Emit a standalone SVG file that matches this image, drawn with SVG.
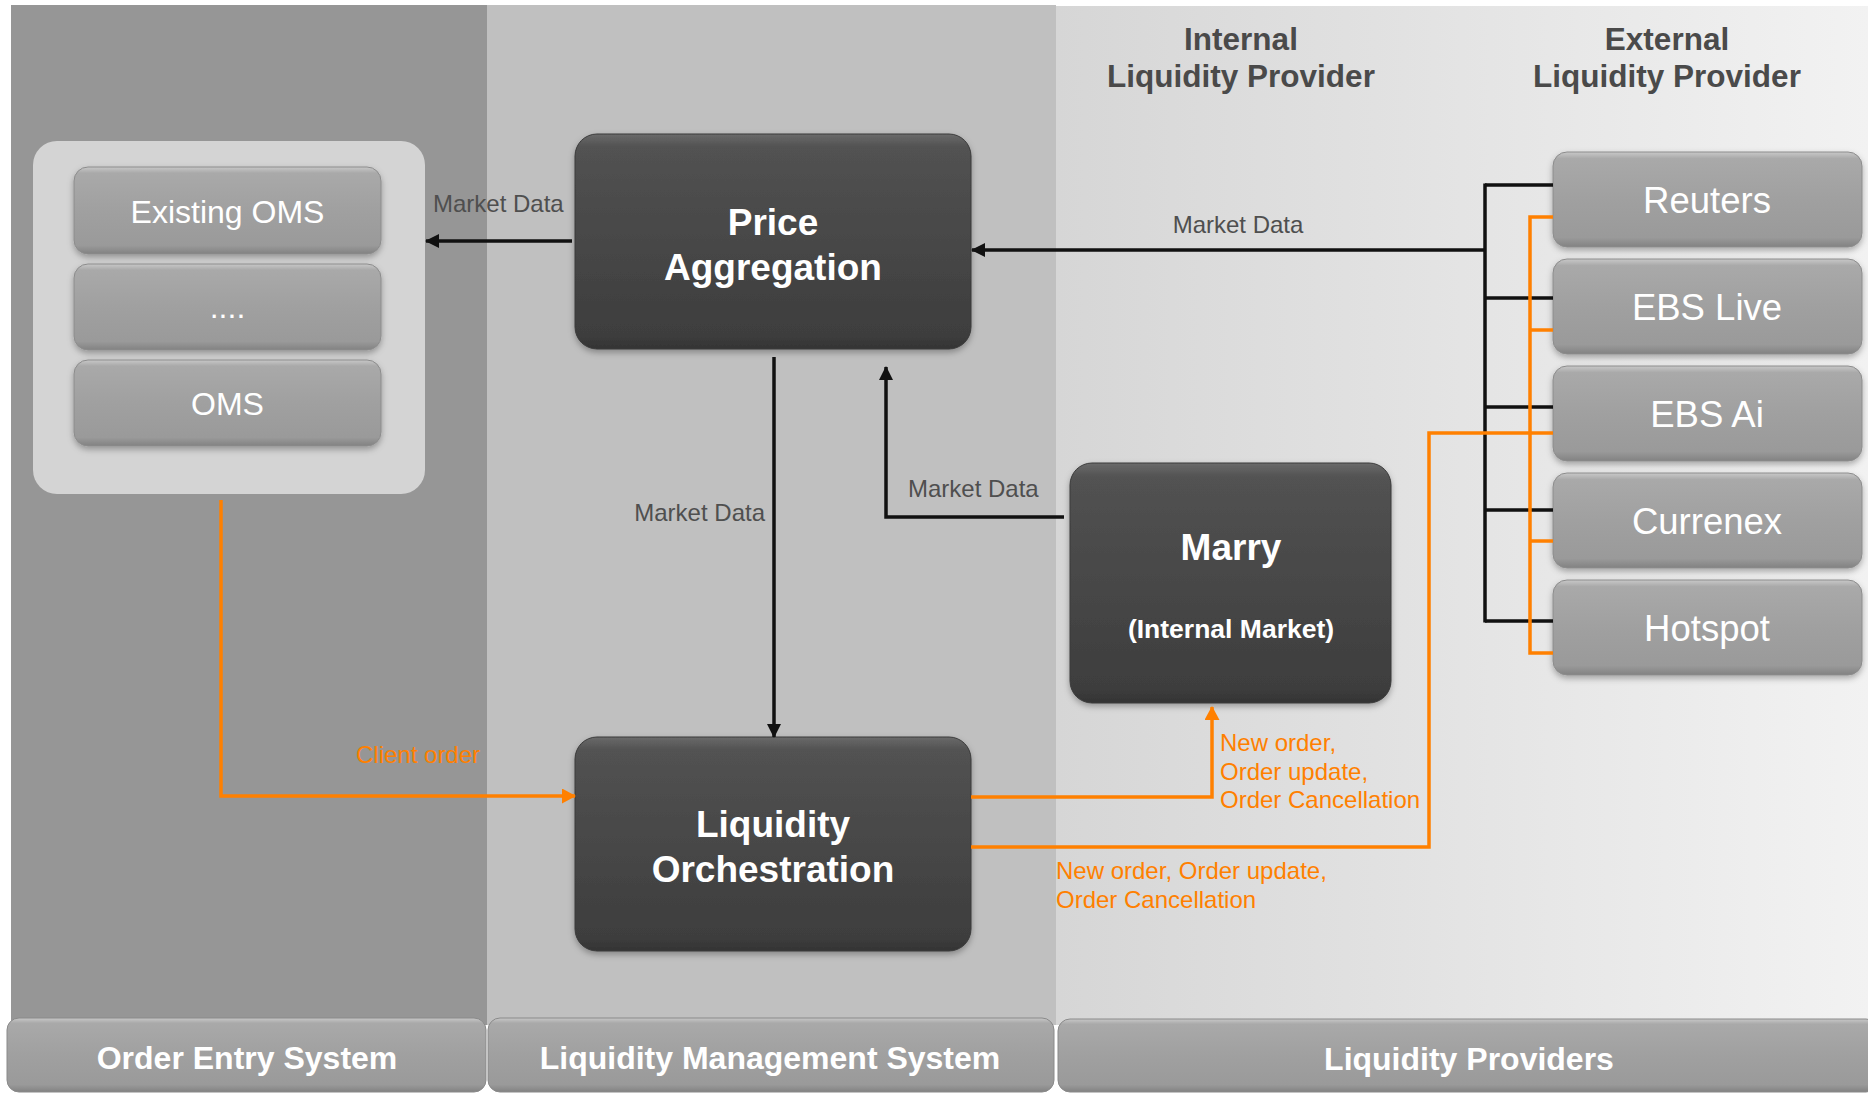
<svg xmlns="http://www.w3.org/2000/svg" width="1868" height="1093" viewBox="0 0 1868 1093">
<defs>
<linearGradient id="gRight" x1="0" y1="0" x2="1" y2="0">
<stop offset="0" stop-color="#d6d6d6"/>
<stop offset="1" stop-color="#f2f2f2"/>
</linearGradient>
<linearGradient id="gLight" x1="0" y1="0" x2="0" y2="1">
<stop offset="0" stop-color="#c8c8c8"/>
<stop offset="0.07" stop-color="#a9a9a9"/>
<stop offset="0.5" stop-color="#a0a0a0"/>
<stop offset="0.9" stop-color="#9a9a9a"/>
<stop offset="1" stop-color="#828282"/>
</linearGradient>
<linearGradient id="gDark" x1="0" y1="0" x2="0" y2="1">
<stop offset="0" stop-color="#6a6a6a"/>
<stop offset="0.06" stop-color="#525252"/>
<stop offset="0.5" stop-color="#474747"/>
<stop offset="0.93" stop-color="#3e3e3e"/>
<stop offset="1" stop-color="#343434"/>
</linearGradient>
<filter id="shadow" x="-10%" y="-10%" width="120%" height="130%">
<feDropShadow dx="0" dy="3" stdDeviation="3" flood-color="#000" flood-opacity="0.3"/>
</filter>
<marker id="arrowBlack" viewBox="0 0 14 14" refX="13" refY="7" markerWidth="14" markerHeight="14" markerUnits="userSpaceOnUse" orient="auto">
<path d="M0,0 L14,7 L0,14 Z" fill="#111"/>
</marker>
<marker id="arrowOrange" viewBox="0 0 14 15" refX="13" refY="7.5" markerWidth="14" markerHeight="15" markerUnits="userSpaceOnUse" orient="auto">
<path d="M0,0 L14,7.5 L0,15 Z" fill="#ff8000"/>
</marker>
<style>
.light{fill:url(#gLight);stroke:#8c8c8c;stroke-width:1;filter:url(#shadow)}
.dark{fill:url(#gDark);stroke:#3a3a3a;stroke-width:1;filter:url(#shadow)}
.bar{fill:url(#gLight);stroke:#8a8a8a;stroke-width:1}
.lt{font-family:"Liberation Sans",Arial,sans-serif;font-size:32px;fill:#ffffff;text-anchor:middle}
.pt{font-family:"Liberation Sans",Arial,sans-serif;font-size:36.5px;fill:#ffffff;text-anchor:middle}
.dt{font-family:"Liberation Sans",Arial,sans-serif;font-size:37px;font-weight:bold;fill:#ffffff;text-anchor:middle}
.bt{font-family:"Liberation Sans",Arial,sans-serif;font-size:32px;font-weight:bold;fill:#ffffff;text-anchor:middle}
.ht{font-family:"Liberation Sans",Arial,sans-serif;font-size:31.5px;font-weight:bold;fill:#4a4a4a;text-anchor:middle}
.md{font-family:"Liberation Sans",Arial,sans-serif;font-size:24px;fill:#4f4f4f}
.ot{font-family:"Liberation Sans",Arial,sans-serif;font-size:24px;fill:#ff8000}
.blk{fill:none;stroke:#111;stroke-width:3.5}
.org{fill:none;stroke:#ff8000;stroke-width:3.5}
</style>
</defs>

<rect x="0" y="0" width="1868" height="1093" fill="#ffffff"/>

<g id="columns">
<rect x="11" y="5" width="476" height="1020" fill="#969696"/>
<rect x="487" y="5" width="569" height="1020" fill="#c0c0c0"/>
<rect x="1056" y="6" width="812" height="1019" fill="url(#gRight)"/>
</g>

<g id="headers">
<text class="ht" x="1241" y="50">Internal</text>
<text class="ht" x="1241" y="87">Liquidity Provider</text>
<text class="ht" x="1667" y="50">External</text>
<text class="ht" x="1667" y="87">Liquidity Provider</text>
</g>

<g id="bar-order-entry">
<rect class="bar" x="7" y="1018" width="479" height="74" rx="12"/>
<text class="bt" x="247" y="1069">Order Entry System</text>
</g>
<g id="bar-lms">
<rect class="bar" x="488" y="1018" width="566" height="74" rx="12"/>
<text class="bt" x="770" y="1069">Liquidity Management System</text>
</g>
<g id="bar-lp">
<rect class="bar" x="1058" y="1019" width="820" height="73" rx="12"/>
<text class="bt" x="1469" y="1070">Liquidity Providers</text>
</g>

<g id="oms-container">
<rect x="33" y="141" width="392" height="353" rx="24" fill="#d4d4d4"/>
</g>
<g id="existing-oms">
<rect class="light" x="74" y="167" width="307" height="87" rx="14"/>
<text class="lt" x="227.5" y="223">Existing OMS</text>
</g>
<g id="oms-dots">
<rect class="light" x="74" y="264" width="307" height="86" rx="14"/>
<text class="lt" x="227.5" y="318">....</text>
</g>
<g id="oms">
<rect class="light" x="74" y="360" width="307" height="86" rx="14"/>
<text class="lt" x="227.5" y="415">OMS</text>
</g>

<g id="price-aggregation">
<rect class="dark" x="575" y="134" width="396" height="215" rx="22"/>
<text class="dt" x="773" y="235">Price</text>
<text class="dt" x="773" y="280">Aggregation</text>
</g>
<g id="liquidity-orchestration">
<rect class="dark" x="575" y="737" width="396" height="214" rx="22"/>
<text class="dt" x="773" y="837">Liquidity</text>
<text class="dt" x="773" y="882">Orchestration</text>
</g>
<g id="marry">
<rect class="dark" x="1070" y="463" width="321" height="240" rx="22"/>
<text class="dt" x="1231" y="560">Marry</text>
<text class="dt" x="1231" y="638" style="font-size:26.5px">(Internal Market)</text>
</g>

<g id="reuters">
<rect class="light" x="1553" y="152" width="309" height="95" rx="14"/>
<text class="pt" x="1707" y="213">Reuters</text>
</g>
<g id="ebs-live">
<rect class="light" x="1553" y="259" width="309" height="95" rx="14"/>
<text class="pt" x="1707" y="320">EBS Live</text>
</g>
<g id="ebs-ai">
<rect class="light" x="1553" y="366" width="309" height="95" rx="14"/>
<text class="pt" x="1707" y="427">EBS Ai</text>
</g>
<g id="currenex">
<rect class="light" x="1553" y="473" width="309" height="95" rx="14"/>
<text class="pt" x="1707" y="534">Currenex</text>
</g>
<g id="hotspot">
<rect class="light" x="1553" y="580" width="309" height="95" rx="14"/>
<text class="pt" x="1707" y="641">Hotspot</text>
</g>

<g id="connectors">
<path class="blk" d="M572,241 H426" marker-end="url(#arrowBlack)"/>
<path class="blk" d="M1485,250 H972" marker-end="url(#arrowBlack)"/>
<path class="blk" d="M1485,183.5 V622.5"/>
<path class="blk" d="M1485,185 H1553 M1485,298 H1553 M1485,407 H1553 M1485,510 H1553 M1485,621 H1553"/>
<path class="blk" d="M774,357 V737" marker-end="url(#arrowBlack)"/>
<path class="blk" d="M1064,517 H886 V367" marker-end="url(#arrowBlack)"/>

<path class="org" d="M221,500 V796 H575" marker-end="url(#arrowOrange)"/>
<path class="org" d="M971,797 H1212 V707" marker-end="url(#arrowOrange)"/>
<path class="org" d="M971,847 H1429 V433 H1553"/>
<path class="org" d="M1553,217 H1530 V653 H1553 M1530,330 H1553 M1530,541 H1553"/>

<text class="md" x="433" y="212">Market Data</text>
<text class="md" x="1238" y="233" text-anchor="middle">Market Data</text>
<text class="md" x="765" y="521" text-anchor="end">Market Data</text>
<text class="md" x="908" y="497">Market Data</text>

<text class="ot" x="356" y="763">Client order</text>
<text class="ot" x="1220" y="751">New order,</text>
<text class="ot" x="1220" y="780">Order update,</text>
<text class="ot" x="1220" y="808">Order Cancellation</text>
<text class="ot" x="1056" y="879">New order, Order update,</text>
<text class="ot" x="1056" y="908">Order Cancellation</text>
</g>
</svg>
